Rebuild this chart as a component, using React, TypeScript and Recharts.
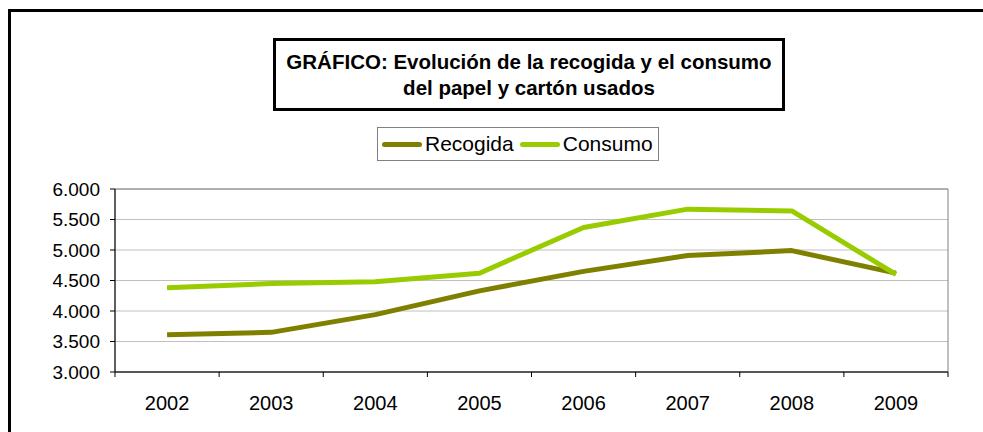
import React from 'react';
import { LineChart, Line, XAxis, YAxis, CartesianGrid, Legend, ReferenceArea } from 'recharts';

const years = ['2002', '2003', '2004', '2005', '2006', '2007', '2008', '2009'];
const recogida = [3610, 3650, 3940, 4330, 4650, 4910, 4990, 4620];
const consumo = [4380, 4450, 4480, 4620, 5370, 5670, 5640, 4600];
const yTicks = [3000, 3500, 4000, 4500, 5000, 5500, 6000];
const seriesOrder = ['Recogida', 'Consumo'];

const data = years.map((year, i) => ({ year, Recogida: recogida[i], Consumo: consumo[i] }));

const fmt = (v: number) => String(v).replace(/\B(?=(\d{3})+(?!\d))/g, '.');

const FONT = 'Arial, "Liberation Sans", sans-serif';

// category label plus tick marks on the band boundaries (Excel style)
const YearTick = (props: any) => {
  const { x, y, payload, index, visibleTicksCount } = props;
  const half = payload && payload.offset ? payload.offset : 0;
  return (
    <g>
      <line x1={x - half} x2={x - half} y1={y} y2={y + 5} stroke="#000" />
      {index === visibleTicksCount - 1 && (
        <line x1={x + half} x2={x + half} y1={y} y2={y + 5} stroke="#000" />
      )}
      <text x={x} y={y + 38} textAnchor="middle" fill="#000" fontSize={20} fontFamily={FONT}>
        {payload.value}
      </text>
    </g>
  );
};

const LegendBox = (props: any) => {
  const items = [...(props.payload || [])].sort(
    (a: any, b: any) => seriesOrder.indexOf(a.value) - seriesOrder.indexOf(b.value)
  );
  return (
    <div
      style={{
        boxSizing: 'border-box',
        width: 282,
        height: 34,
        border: '1px solid #808080',
        background: '#fff',
        display: 'flex',
        alignItems: 'center',
        paddingLeft: 4,
        fontFamily: FONT,
        fontSize: 21,
        color: '#000',
      }}
    >
      {items.map((p: any, i: number) => (
        <div key={i} style={{ display: 'flex', alignItems: 'center', marginRight: 6 }}>
          <span style={{ display: 'inline-block', width: 40, height: 5, borderRadius: 3, background: p.color, marginRight: 3 }} />
          <span>{p.value}</span>
        </div>
      ))}
    </div>
  );
};

export default function App() {
  return (
    <div style={{ position: 'absolute', left: 0, top: 0, width: 983, height: 432, overflow: 'hidden', background: '#fff', fontFamily: FONT }}>
      <div style={{ position: 'absolute', left: 8, top: 9, width: 1000, height: 500, border: '3px solid #000', boxSizing: 'border-box' }} />
      <LineChart width={983} height={432} data={data} margin={{ top: 189, right: 35, bottom: 30, left: 0 }} style={{ position: 'absolute', left: 0, top: 0 }}>
        <CartesianGrid vertical={false} stroke="#c0c0c0" />
        <ReferenceArea y1={3000} y2={6000} stroke="#808080" fill="none" fillOpacity={0} ifOverflow="visible" />
        <XAxis dataKey="year" scale="band" interval={0} tickLine={false} axisLine={{ stroke: '#000' }} tickSize={0} tickMargin={0} height={30} tick={<YearTick />} />
        <YAxis domain={[3000, 6000]} ticks={yTicks} tickFormatter={fmt} width={115} axisLine={{ stroke: '#000' }} tickLine={{ stroke: '#000' }} tickSize={5} tickMargin={10} tick={{ fill: '#000', fontSize: 19, fontFamily: FONT }} />
        <Legend layout="horizontal" verticalAlign="middle" align="center" wrapperStyle={{ left: 377, top: 127, width: 282, height: 34 }} content={<LegendBox />} />
        <Line dataKey="Recogida" stroke="#808000" strokeWidth={5} dot={false} strokeLinejoin="round" isAnimationActive={false} />
        <Line dataKey="Consumo" stroke="#99cc00" strokeWidth={5} dot={false} strokeLinejoin="round" isAnimationActive={false} />
      </LineChart>
      <div
        style={{
          position: 'absolute',
          left: 273,
          top: 38,
          width: 512,
          height: 73,
          boxSizing: 'border-box',
          border: '3px solid #000',
          background: '#fff',
          textAlign: 'center',
          fontWeight: 'bold',
          fontSize: 20.5,
          lineHeight: '26px',
          paddingTop: 8,
          color: '#000',
        }}
      >
        GRÁFICO: Evolución de la recogida y el consumo
        <br />
        del papel y cartón usados
      </div>
    </div>
  );
}
